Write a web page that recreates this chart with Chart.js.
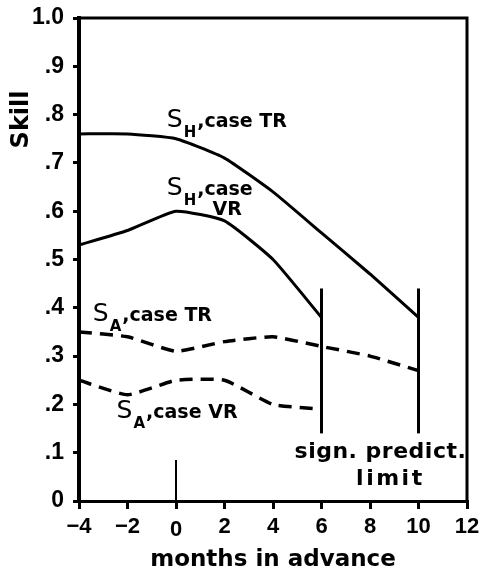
<!DOCTYPE html>
<html>
<head>
<meta charset="utf-8">
<script src="https://cdn.jsdelivr.net/npm/chart.js@4/dist/chart.umd.min.js"></script>
<style>
  body { margin: 0; background: #fff; }
  canvas { display: block; }
</style>
</head>
<body>
<canvas id="grafico" width="480" height="581"></canvas>
<script>
const months = [-4, -2, 0, 2, 4, 6, 8, 10];
const shTR = [0.76, 0.76, 0.75, 0.71, 0.64, 0.555, 0.47, 0.38];
const shVR = [0.53, 0.56, 0.60, 0.58, 0.50, 0.38];
const saTR = [0.35, 0.34, 0.31, 0.33, 0.34, 0.32, 0.30, 0.27];
const saVR = [0.25, 0.22, 0.25, 0.25, 0.20, 0.19];
const limitMonths = [6, 10];
const limitRange = [0.14, 0.44];
const zeroMark = [0, 0.085];
const yTicks = ['0', '.1', '.2', '.3', '.4', '.5', '.6', '.7', '.8', '.9', '1.0'];

const FONT = "'DejaVu Sans', sans-serif";
const TICKFONT = "'Liberation Sans', Arial, sans-serif";

function pts(xs, ys) {
    return ys.map((y, i) => ({ x: xs[i], y: y }));
}

function solid(data) {
    return { data, borderColor: '#000', borderWidth: 3, pointRadius: 0, tension: 0.15, fill: false };
}
function dashed(data) {
    return { data, borderColor: '#000', borderWidth: 3.5, borderDash: [13, 8], pointRadius: 0, tension: 0.15, fill: false };
}

const datasets = [
    solid(pts(months, shTR)),
    solid(pts(months, shVR)),
    dashed(pts(months, saTR)),
    dashed(pts(months, saVR))
];
limitMonths.forEach(m => {
    datasets.push({ data: [{ x: m, y: limitRange[0] }, { x: m, y: limitRange[1] }], borderColor: '#000', borderWidth: 3, pointRadius: 0 });
});
datasets.push({ data: [{ x: zeroMark[0], y: 0 }, { x: zeroMark[0], y: zeroMark[1] }], borderColor: '#000', borderWidth: 2, pointRadius: 0 });

// labels: [x, y, main, sub, rest, second line]
const curveLabels = [
    [-0.38, 0.774, 'S', 'H', ',case TR', null],
    [-0.38, 0.633, 'S', 'H', ',case', 'VR'],
    [-3.43, 0.372, 'S', 'A', ',case TR', null],
    [-2.45, 0.172, 'S', 'A', ',case VR', null]
];

const extras = {
    id: 'extras',
    afterDraw(chart) {
        const ctx = chart.ctx;
        const a = chart.chartArea;
        const xs = chart.scales.x, ys = chart.scales.y;
        ctx.save();
        ctx.strokeStyle = '#000';
        ctx.lineWidth = 3;
        ctx.beginPath();
        ctx.moveTo(a.left, a.top);
        ctx.lineTo(a.right, a.top);
        ctx.lineTo(a.right, a.bottom);
        ctx.stroke();

        ctx.fillStyle = '#000';
        ctx.textBaseline = 'alphabetic';
        // lowered "0" under the x axis, like the original
        ctx.font = 'bold 22px ' + TICKFONT;
        ctx.textAlign = 'center';
        ctx.fillText('0', xs.getPixelForValue(0), a.bottom + 35);
        ctx.textAlign = 'left';

        curveLabels.forEach(l => {
            let px = xs.getPixelForValue(l[0]);
            const py = ys.getPixelForValue(l[1]);
            ctx.letterSpacing = '0px';
            ctx.font = '25px ' + FONT;
            ctx.fillText(l[2], px, py);
            px += ctx.measureText(l[2]).width + 1;
            ctx.font = 'bold 15px ' + FONT;
            ctx.fillText(l[3], px, py + 10);
            px += ctx.measureText(l[3]).width + 1;
            ctx.font = 'bold 19px ' + FONT;
            ctx.fillText(l[4], px, py);
            if (l[5]) {
                const cw = ctx.measureText(',').width;
                ctx.fillText(l[5], px + cw + 8, py + 20);
            }
        });

        ctx.font = 'bold 22px ' + FONT;
        ctx.letterSpacing = '0.5px';
        ctx.textAlign = 'center';
        ctx.fillText('sign. predict.', xs.getPixelForValue(8.43), ys.getPixelForValue(0.09));
        ctx.letterSpacing = '2.5px';
        ctx.fillText('limit', xs.getPixelForValue(8.84), ys.getPixelForValue(0.033));
        ctx.letterSpacing = '0px';

        ctx.translate(22, ys.getPixelForValue(0.79));
        ctx.rotate(-Math.PI / 2);
        ctx.font = 'bold 24px ' + FONT;
        ctx.textBaseline = 'middle';
        ctx.fillText('Skill', 0, 0);
        ctx.restore();
    }
};

const config = {
    type: 'line',
    data: { datasets },
    options: {
        responsive: false,
        animation: false,
        devicePixelRatio: 1,
        layout: { padding: { top: 18, right: 13, left: 0, bottom: 0 } },
        plugins: { legend: { display: false }, tooltip: { enabled: false } },
        scales: {
            x: {
                type: 'linear',
                min: -4,
                max: 12,
                afterFit(s) { s.height = 80; s.paddingLeft = 0; s.paddingRight = 0; },
                ticks: {
                    stepSize: 2,
                    color: '#000',
                    padding: 5,
                    font: { family: TICKFONT, size: 22, weight: 'bold' },
                    callback: v => v === 0 ? '' : (v < 0 ? '\u2212' + Math.abs(v) : String(v))
                },
                grid: { drawOnChartArea: false, drawTicks: true, tickLength: 8, color: '#000', lineWidth: 3 },
                border: { color: '#000', width: 3 },
                title: {
                    display: true,
                    text: 'months in advance',
                    color: '#000',
                    font: { family: FONT, size: 23, weight: 'bold' },
                    padding: { top: 4, bottom: 7 }
                }
            },
            y: {
                min: 0,
                max: 1,
                afterFit(s) { s.width = 79; s.paddingTop = 0; s.paddingBottom = 0; },
                ticks: {
                    stepSize: 0.1,
                    color: '#000',
                    padding: 9,
                    font: { family: TICKFONT, size: 23, weight: 'bold' },
                    callback: (v) => yTicks[Math.round(v * 10)]
                },
                grid: { drawOnChartArea: false, drawTicks: true, tickLength: 6, color: '#000', lineWidth: 3 },
                border: { color: '#000', width: 4 }
            }
        }
    },
    plugins: [extras]
};

const grafico = new Chart(document.getElementById('grafico').getContext('2d'), config);
</script>
</body>
</html>
